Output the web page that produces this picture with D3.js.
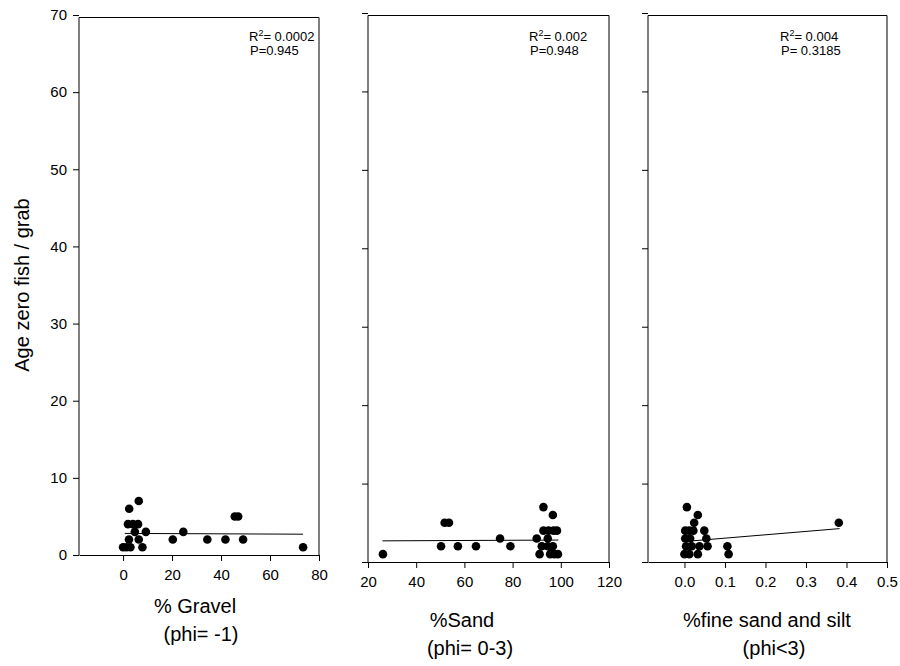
<!DOCTYPE html>
<html>
<head>
<meta charset="utf-8">
<script src="https://cdn.jsdelivr.net/npm/d3@7"></script>
<style>
  body { margin: 0; background: #fff; }
  svg { font-family: "Liberation Sans", Arial, sans-serif; }
  .tick text { font-size: 15px; fill: #000; }
  .tick line, .domain { stroke: #000; }
</style>
</head>
<body>
<svg id="chart" width="900" height="666"></svg>
<script>
// Panel 1: % Gravel
const gravelX = [0, 1.4, 3, 7.9, 73.5, 2.4, 6.4, 20.3, 34.4, 41.8, 49, 4.8, 9.3, 24.6, 2, 4, 6.1, 45.6, 47, 2.5, 6.4];
const gravelY = [1, 1, 1, 1, 1, 2, 2, 2, 2, 2, 2, 3, 3, 3, 4, 4, 4, 5, 5, 6, 7];
const gravelFit = { x0: 0.7, x1: 73.5, a: 2.8, b: -0.0014 };

// Panel 2: % Sand
const sandX = [26.2, 50.3, 57.3, 64.8, 51.8, 53.6, 74.8, 79.1, 90, 92.8, 96.7,
               92.8, 94.9, 97, 98.4, 94.6, 92.1, 94.6, 96.7, 91.2, 95.6, 97.3, 98.8];
const sandY = [1, 2, 2, 2, 5, 5, 3, 2, 3, 7, 6,
               4, 4, 4, 4, 3, 2, 2, 2, 1, 1, 1, 1];
const sandFit = { x0: 26, x1: 99, a: 2.66, b: 0.0014 };

// Panel 3: % fine sand and silt
const fineX = [0.006, 0.033, 0.024, 0.381, 0.002, 0.012, 0.022, 0.049, 0.002, 0.014, 0.054,
               0.004, 0.018, 0.037, 0.057, 0.106, 0.0, 0.012, 0.033, 0.109];
const fineY = [7, 6, 5, 5, 4, 4, 4, 4, 3, 3, 3,
               2, 2, 2, 2, 2, 1, 1, 1, 1];
const fineFit = { x0: 0.02, x1: 0.383, a: 2.61, b: 4.3 };

const yTicks = [0, 10, 20, 30, 40, 50, 60, 70];

const panels = [
  { xs: gravelX, ys: gravelY, fit: gravelFit,
    xDomain: [-18, 80], xTicks: [0, 20, 40, 60, 80], fmt: d3.format("d"),
    left: 79, right: 319, bottom: 555, top: 15, yLabels: true,
    r2: "0.0002", p: "P=0.945", noteX: 249,
    title: ["% Gravel", "(phi= -1)"], titleX: [195, 201], titleY: [613, 641] },
  { xs: sandX, ys: sandY, fit: sandFit,
    xDomain: [20, 120], xTicks: [20, 40, 60, 80, 100, 120], fmt: d3.format("d"),
    left: 368, right: 609, bottom: 562, top: 13, yLabels: false,
    r2: "0.002", p: "P=0.948", noteX: 529,
    title: ["%Sand", "(phi= 0-3)"], titleX: [462, 470], titleY: [627, 655] },
  { xs: fineX, ys: fineY, fit: fineFit,
    xDomain: [-0.09, 0.5], xTicks: [0, 0.1, 0.2, 0.3, 0.4, 0.5], fmt: d3.format(".1f"),
    left: 648, right: 887, bottom: 562, top: 13, yLabels: false,
    r2: "0.004", p: "P= 0.3185", noteX: 780,
    title: ["%fine sand and silt", "(phi<3)"], titleX: [767, 774], titleY: [627, 655] }
];

const svg = d3.select("#chart");

panels.forEach(pn => {
  const x = d3.scaleLinear().domain(pn.xDomain).range([pn.left, pn.right]);
  const y = d3.scaleLinear().domain([0, 70]).range([pn.bottom, pn.top]);
  const g = svg.append("g");

  // frame top / right
  g.append("line")
    .attr("x1", pn.left).attr("x2", pn.right)
    .attr("y1", y(70) + 2.5).attr("y2", y(70) + 2.5)
    .attr("stroke", "#000");
  g.append("line")
    .attr("x1", pn.right).attr("x2", pn.right)
    .attr("y1", y(70) + 2.5).attr("y2", pn.bottom)
    .attr("stroke", "#000");

  const yAxis = d3.axisLeft(y).tickValues(yTicks).tickSize(6).tickPadding(6)
    .tickSizeOuter(0);
  if (!pn.yLabels) yAxis.tickFormat("");
  g.append("g").attr("transform", `translate(${pn.left},0)`).call(yAxis)
    .select(".domain").attr("d", `M0,${y(70) + 2.5}V${pn.bottom}`);

  g.append("g").attr("transform", `translate(0,${pn.bottom})`)
    .call(d3.axisBottom(x).tickValues(pn.xTicks).tickFormat(pn.fmt)
      .tickSize(6).tickPadding(8).tickSizeOuter(0));

  // regression line
  const f = pn.fit;
  g.append("line")
    .attr("x1", x(f.x0)).attr("y1", y(f.a + f.b * f.x0))
    .attr("x2", x(f.x1)).attr("y2", y(f.a + f.b * f.x1))
    .attr("stroke", "#000").attr("stroke-width", 1);

  g.selectAll("circle")
    .data(pn.xs.map((v, i) => [v, pn.ys[i]]))
    .enter().append("circle")
    .attr("cx", d => x(d[0]))
    .attr("cy", d => y(d[1]))
    .attr("r", 4.3)
    .attr("fill", "#000");

  // R2 / P annotation
  const r2 = g.append("text").attr("x", pn.noteX).attr("y", 41).attr("font-size", 13);
  r2.append("tspan").text("R");
  r2.append("tspan").attr("font-size", 9).attr("dy", -5).text("2");
  r2.append("tspan").attr("dy", 5).text("= " + pn.r2);
  g.append("text").attr("x", pn.noteX + 1).attr("y", 55).attr("font-size", 13).text(pn.p);

  pn.title.forEach((t, i) => {
    g.append("text")
      .attr("x", pn.titleX[i]).attr("y", pn.titleY[i])
      .attr("text-anchor", "middle").attr("font-size", 20)
      .text(t);
  });
});

svg.append("text")
  .attr("transform", "translate(29,285) rotate(-90)")
  .attr("text-anchor", "middle").attr("font-size", 20)
  .text("Age zero fish / grab");
</script>
</body>
</html>
